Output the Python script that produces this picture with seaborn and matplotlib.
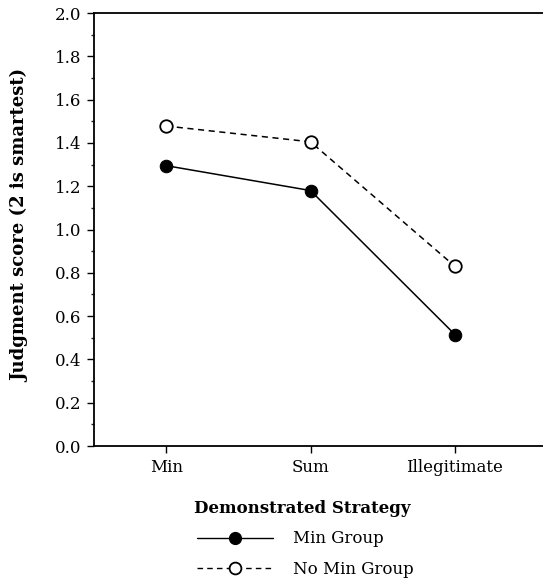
import numpy as np
import matplotlib.pyplot as plt
import pandas as pd
import seaborn as sns
from matplotlib.ticker import MultipleLocator
from matplotlib.lines import Line2D

strategies = ["Min", "Sum", "Illegitimate"]
min_group = [1.295, 1.18, 0.515]
no_min_group = [1.478, 1.405, 0.83]

df = pd.DataFrame({
    "Strategy": strategies * 2,
    "Score": min_group + no_min_group,
    "Group": ["Min Group"] * 3 + ["No Min Group"] * 3,
})
df["x"] = df["Strategy"].map({s: i for i, s in enumerate(strategies)})

sns.set_style("ticks")
plt.rcParams["font.family"] = ["DejaVu Serif"]
plt.rcParams["text.color"] = "black"
plt.rcParams["axes.labelcolor"] = "black"

fig = plt.figure(figsize=(5.43, 5.79), dpi=100)
ax = fig.add_axes([0.173, 0.2297, 0.827, 0.7478])

sns.lineplot(data=df[df.Group == "Min Group"], x="x", y="Score", ax=ax,
             color="black", lw=1.1, marker="o", ms=9, mfc="black", mec="black")
sns.lineplot(data=df[df.Group == "No Min Group"], x="x", y="Score", ax=ax,
             color="black", lw=1.1, ls=(0, (4, 3)), marker="o", ms=9,
             mfc="white", mec="black", mew=1.3)

ax.set_xlim(-0.5, 2.61)
ax.set_ylim(0, 2.0)
ax.set_xticks(range(3))
ax.set_xticklabels(strategies, fontsize=12)
ax.yaxis.set_major_locator(MultipleLocator(0.2))
ax.yaxis.set_minor_locator(MultipleLocator(0.1))
ax.set_yticklabels([f"{v:.1f}" for v in ax.get_yticks()], fontsize=12)
ax.tick_params(axis="both", which="major", length=5, width=1, direction="out",
               colors="black", pad=4)
ax.tick_params(axis="y", which="minor", length=2.5, width=1)
for s in ["left", "bottom", "top"]:
    ax.spines[s].set_linewidth(1.3)
    ax.spines[s].set_color("black")
ax.spines["right"].set_visible(False)

ax.set_ylabel("Judgment score (2 is smartest)", fontsize=13, fontweight="bold")
ax.yaxis.set_label_coords(-0.145, 0.51)
ax.set_xlabel("Demonstrated Strategy", fontsize=12, fontweight="bold")
ax.xaxis.set_label_coords(0.463, -0.125)

handles = [
    Line2D([], [], color="black", lw=1.0, marker="o", ms=8.5, mfc="black", mec="black"),
    Line2D([], [], color="black", lw=1.0, ls=(0, (4, 3)), marker="o", ms=8.5,
           mfc="white", mec="black", mew=1.3),
]
fig.legend(handles, ["Min Group", "No Min Group"], loc="upper left",
           bbox_to_anchor=(0.362, 0.084), frameon=False, fontsize=12,
           handlelength=4.6, handletextpad=1.2, labelspacing=0.8,
           borderaxespad=0, borderpad=0)

fig.savefig("out.png", dpi=100)
